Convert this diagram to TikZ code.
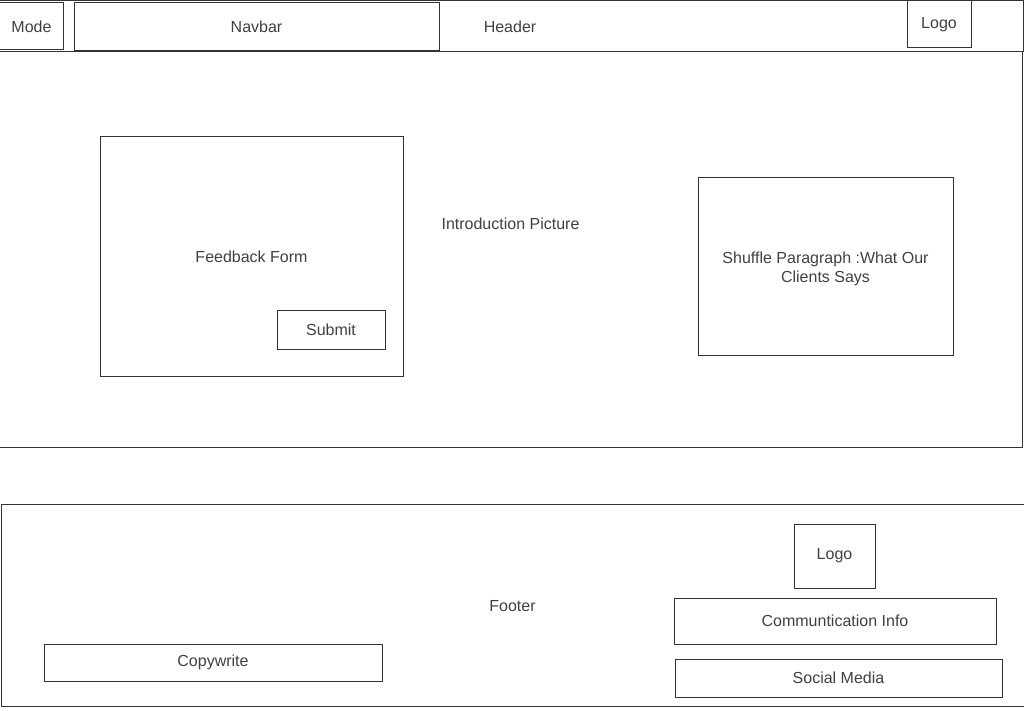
\documentclass[tikz,border=0pt]{standalone}
\usepackage{fontspec}
\setmainfont{Liberation Sans}
\definecolor{wire}{HTML}{333333}
\definecolor{wiretext}{HTML}{404040}
\begin{document}
\begin{tikzpicture}[x=1pt,y=-1pt,
	box/.style={draw=wire,line width=1pt,rectangle,inner sep=0pt,text=wiretext,font=\fontsize{16}{19}\selectfont,align=center},
	txt/.style={text=wiretext,font=\fontsize{16}{19}\selectfont,align=center,inner sep=0pt}]
	\clip (0,0) rectangle (1024,711);
	% header row
	\node[box,minimum width=1026pt,minimum height=51pt](header) at (510,26.5){Header};
	\node[box,minimum width=66pt,minimum height=47pt](mode) at (30,26.5){\hspace*{3pt}Mode};
	\node[box,minimum width=365pt,minimum height=48pt](navbar) at (256.5,27){Navbar};
	\node[box,minimum width=64pt,minimum height=47pt](toplogo) at (939,24.5){Logo};
	% main body
	\node[box,minimum width=1026pt,minimum height=395pt](body) at (509,249.5){};
	\node[txt](intro) at (510.5,224){Introduction Picture};
	\node[box,minimum width=303pt,minimum height=240pt](form) at (251.5,256.5){Feedback Form};
	\node[box,minimum width=108pt,minimum height=39pt](submit) at (331,329.5){Submit};
	\node[box,minimum width=255pt,minimum height=177pt,label={[txt,yshift=-2pt]center:{Shuffle Paragraph :What Our\\Clients Says}}](shuffle) at (825.5,266.5){};
	% footer
	\node[box,minimum width=1030pt,minimum height=202pt](footer) at (516,605){};
	\node[txt](foot) at (512.5,606){Footer};
	\node[box,minimum width=81pt,minimum height=64pt](footlogo) at (834.5,556){Logo};
	\node[box,minimum width=322pt,minimum height=46pt](comm) at (835,621){Communtication Info};
	\node[box,minimum width=327pt,minimum height=38pt](social) at (838.5,678){Social Media};
	\node[box,minimum width=338pt,minimum height=37pt](copy) at (213,662.5){Copywrite};
\end{tikzpicture}
\end{document}
